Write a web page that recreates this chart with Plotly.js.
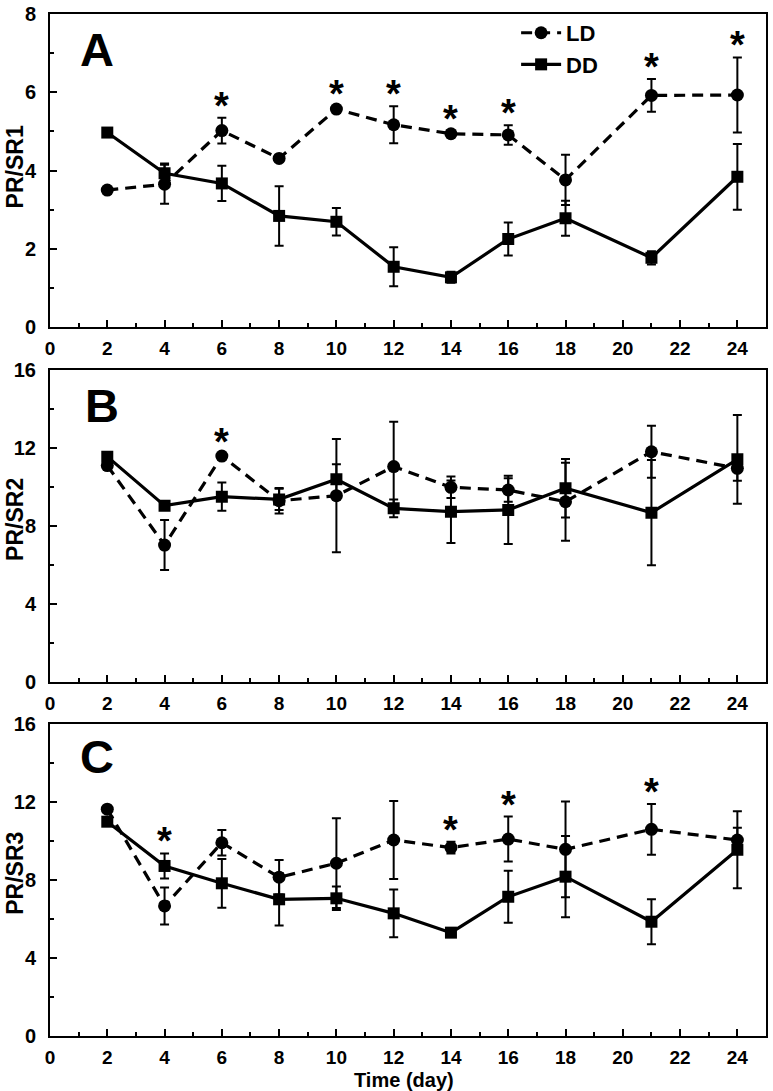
<!DOCTYPE html>
<html>
<head>
<meta charset="utf-8">
<script src="https://cdn.plot.ly/plotly-3.0.1.min.js"></script>
<style>html,body{margin:0;padding:0;background:#fff;}</style>
</head>
<body>
<div id="chart" style="width:773px;height:1091px;"></div>
<script>
// Time points (day)
const days = [2, 4, 6, 8, 10, 12, 14, 16, 18, 21, 24];

// Panel A: PR/SR1
const A_LD     = [3.50, 3.65, 5.02, 4.31, 5.57, 5.17, 4.94, 4.91, 3.76, 5.92, 5.93];
const A_LD_err = [0.05, 0.50, 0.33, 0.08, 0.08, 0.47, 0.08, 0.25, 0.64, 0.42, 0.96];
const A_DD     = [4.97, 3.93, 3.67, 2.84, 2.69, 1.54, 1.27, 2.25, 2.78, 1.77, 3.84];
const A_DD_err = [0.05, 0.25, 0.45, 0.76, 0.35, 0.50, 0.14, 0.42, 0.45, 0.17, 0.84];
const A_stars  = [6, 10, 12, 14, 16, 21, 24];

// Panel B: PR/SR2
const B_LD     = [11.10, 7.03, 11.59, 9.30, 9.56, 11.05, 9.99, 9.85, 9.25, 11.81, 10.96];
const B_LD_err = [0.10, 1.28, 0.10, 0.65, 2.90, 2.30, 0.55, 0.60, 2.00, 1.33, 0.63];
const B_DD     = [11.56, 9.05, 9.51, 9.37, 10.40, 8.91, 8.74, 8.83, 9.94, 8.69, 11.42];
const B_DD_err = [0.10, 0.10, 0.72, 0.55, 0.77, 0.45, 1.60, 1.75, 1.50, 2.70, 2.27];
const B_stars  = [6];

// Panel C: PR/SR3
const C_LD     = [11.63, 6.67, 9.91, 8.14, 8.86, 10.05, 9.66, 10.10, 9.57, 10.60, 10.05];
const C_LD_err = [0.10, 0.95, 0.65, 0.88, 2.30, 2.00, 0.30, 1.15, 2.45, 1.30, 0.63];
const C_DD     = [10.99, 8.72, 7.83, 7.01, 7.06, 6.29, 5.30, 7.14, 8.17, 5.86, 9.55];
const C_DD_err = [0.10, 0.64, 1.25, 1.35, 0.60, 1.22, 0.08, 1.33, 2.08, 1.15, 1.97];
const C_stars  = [4, 14, 16, 21];

const panelLabels = ['A', 'B', 'C'];
const yTitles = ['PR/SR1', 'PR/SR2', 'PR/SR3'];
const xTitle = 'Time (day)';
const seriesNames = ['LD', 'DD'];

const FONT = 'Liberation Sans, Arial, Helvetica, sans-serif';

function ldTrace(y, err, xa, ya, show) {
  return {
    x: days, y: y, name: seriesNames[0], type: 'scatter', mode: 'lines+markers',
    xaxis: xa, yaxis: ya, showlegend: show, legendgroup: 'LD',
    line: {color: '#000', width: 3.2, dash: '11px,7px'},
    marker: {symbol: 'circle', size: 13, color: '#000'},
    error_y: {type: 'data', array: err, visible: true, color: '#000', thickness: 2, width: 4.5}
  };
}
function ddTrace(y, err, xa, ya, show) {
  return {
    x: days, y: y, name: seriesNames[1], type: 'scatter', mode: 'lines+markers',
    xaxis: xa, yaxis: ya, showlegend: show, legendgroup: 'DD',
    line: {color: '#000', width: 3.2},
    marker: {symbol: 'square', size: 12, color: '#000'},
    error_y: {type: 'data', array: err, visible: true, color: '#000', thickness: 2, width: 4.5}
  };
}

const data = [
  ldTrace(A_LD, A_LD_err, 'x', 'y', true),
  ddTrace(A_DD, A_DD_err, 'x', 'y', true),
  ldTrace(B_LD, B_LD_err, 'x2', 'y2', false),
  ddTrace(B_DD, B_DD_err, 'x2', 'y2', false),
  ldTrace(C_LD, C_LD_err, 'x3', 'y3', false),
  ddTrace(C_DD, C_DD_err, 'x3', 'y3', false)
];

function xAxis(anchor) {
  return {
    anchor: anchor, range: [0, 25], tick0: 0, dtick: 2,
    ticks: 'inside', ticklen: 7, tickwidth: 2, tickcolor: '#000',
    showline: true, linewidth: 2, linecolor: '#000', mirror: true,
    showgrid: false, zeroline: false, ticklabelstandoff: 3,
    tickfont: {family: FONT, size: 19, color: '#000', weight: 'bold'},
    minor: {dtick: 1, tick0: 0, ticks: 'inside', ticklen: 4, tickwidth: 2, tickcolor: '#000', showgrid: false}
  };
}
function yAxis(anchor, domain, top, major) {
  return {
    anchor: anchor, domain: domain, range: [0, top], tick0: 0, dtick: major,
    ticks: 'inside', ticklen: 7, tickwidth: 2, tickcolor: '#000',
    showline: true, linewidth: 2, linecolor: '#000', mirror: true,
    showgrid: false, zeroline: false, ticklabelstandoff: 8,
    tickfont: {family: FONT, size: 20, color: '#000', weight: 'bold'},
    minor: {dtick: major / 2, tick0: 0, ticks: 'inside', ticklen: 4, tickwidth: 2, tickcolor: '#000', showgrid: false}
  };
}

const annotations = [];
function addStars(stars, ld, ldErr, dd, ddErr, xa, ya) {
  stars.forEach(function (d) {
    const i = days.indexOf(d);
    const top = Math.max(ld[i] + ldErr[i], dd[i] + ddErr[i]);
    annotations.push({
      x: d, y: top, xref: xa, yref: ya, text: '*', showarrow: false,
      xanchor: 'center', yanchor: 'middle', yshift: 12,
      font: {family: FONT, size: 38, color: '#000', weight: 'bold'}
    });
  });
}
addStars(A_stars, A_LD, A_LD_err, A_DD, A_DD_err, 'x', 'y');
addStars(B_stars, B_LD, B_LD_err, B_DD, B_DD_err, 'x2', 'y2');
addStars(C_stars, C_LD, C_LD_err, C_DD, C_DD_err, 'x3', 'y3');

const yRefs = ['y', 'y2', 'y3'];
const xRefs = ['x', 'x2', 'x3'];
const letterPos = [[0.066, 0.885], [0.073, 0.885], [0.066, 0.895]];
const titlePos = [0.51, 0.52, 0.52];
for (let k = 0; k < 3; k++) {
  annotations.push({
    x: letterPos[k][0], y: letterPos[k][1], xref: xRefs[k] + ' domain', yref: yRefs[k] + ' domain',
    text: panelLabels[k], showarrow: false, xanchor: 'center', yanchor: 'middle',
    font: {family: FONT, size: 47, color: '#000', weight: 'bold'}
  });
  annotations.push({
    x: 0, y: titlePos[k], xref: 'paper', yref: yRefs[k] + ' domain', xshift: -35,
    text: yTitles[k], textangle: -90, showarrow: false, xanchor: 'center', yanchor: 'middle',
    font: {family: FONT, size: 23, color: '#000', weight: 'bold'}
  });
}
// x-axis title below the bottom panel
annotations.push({
  x: 0.495, y: 0, xref: 'paper', yref: 'paper', yanchor: 'bottom', yshift: -56,
  text: xTitle, showarrow: false, xanchor: 'center', borderpad: 0,
  font: {family: FONT, size: 20, color: '#000', weight: 'bold'}
});

const layout = {
  width: 773, height: 1091,
  margin: {l: 50, r: 7, t: 14, b: 55},
  paper_bgcolor: '#fff', plot_bgcolor: '#fff',
  font: {family: FONT, size: 20, color: '#000', weight: 'bold'},
  showlegend: true,
  legend: {
    x: 0.651, y: 1.002, xanchor: 'left', yanchor: 'top',
    bgcolor: 'rgba(0,0,0,0)', borderwidth: 0, traceorder: 'normal',
    font: {family: FONT, size: 22, color: '#000', weight: 'bold'},
    itemwidth: 40
  },
  xaxis: xAxis('y'),
  xaxis2: xAxis('y2'),
  xaxis3: xAxis('y3'),
  yaxis: yAxis('x', [0.6937, 1], 8, 2),
  yaxis2: yAxis('x2', [0.3461, 0.6517], 16, 4),
  yaxis3: yAxis('x3', [0, 0.3053], 16, 4),
  annotations: annotations
};

Plotly.newPlot('chart', data, layout, {displayModeBar: false, staticPlot: true});
</script>
</body>
</html>
